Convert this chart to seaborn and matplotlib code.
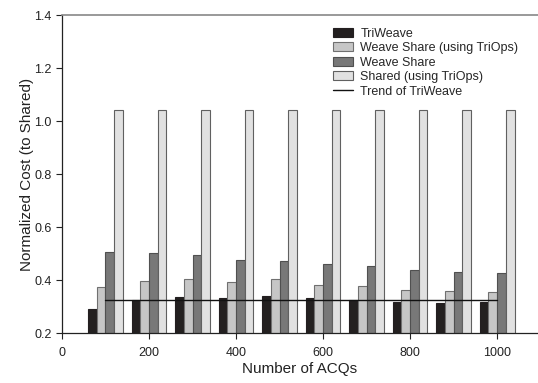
import matplotlib
matplotlib.use("Agg")
import matplotlib.pyplot as plt
from matplotlib.patches import Patch
from matplotlib.lines import Line2D
import seaborn as sns
import pandas as pd

# Workload sizes (number of ACQs)
acqs = [100, 200, 300, 400, 500, 600, 700, 800, 900, 1000]

# Normalized cost relative to the Shared baseline
triweave = [0.292, 0.326, 0.336, 0.332, 0.340, 0.332, 0.326, 0.318, 0.315, 0.316]
weave_share_triops = [0.375, 0.396, 0.405, 0.392, 0.405, 0.381, 0.376, 0.361, 0.357, 0.356]
weave_share = [0.506, 0.503, 0.496, 0.477, 0.473, 0.462, 0.453, 0.439, 0.430, 0.425]
shared_triops = [1.04, 1.04, 1.04, 1.04, 1.04, 1.04, 1.04, 1.04, 1.04, 1.04]
trend_triweave = [0.323, 0.323]

series_names = ["TriWeave", "Weave Share (using TriOps)", "Weave Share", "Shared (using TriOps)"]
series_values = [triweave, weave_share_triops, weave_share, shared_triops]
trend_name = "Trend of TriWeave"

colors = {
    "TriWeave": "#231f20",
    "Weave Share (using TriOps)": "#c6c6c6",
    "Weave Share": "#787878",
    "Shared (using TriOps)": "#e1e1e1",
}
edges = {
    "TriWeave": "#231f20",
    "Weave Share (using TriOps)": "#707070",
    "Weave Share": "#505050",
    "Shared (using TriOps)": "#606060",
}

rows = []
for name, vals in zip(series_names, series_values):
    for a, v in zip(acqs, vals):
        rows.append({"acqs": a, "cost": v, "series": name})
df = pd.DataFrame(rows)

sns.set_style("ticks")
plt.rcParams["font.family"] = ["Liberation Sans", "DejaVu Sans"]

fig = plt.figure(figsize=(5.38, 3.83), dpi=100)
ax = fig.add_axes([0.1152, 0.1305, 0.8848, 0.8303])

sns.barplot(data=df, x="acqs", y="cost", hue="series", hue_order=series_names,
            palette=colors, native_scale=True, width=0.8, errorbar=None,
            linewidth=0.8, ax=ax, legend=False)

# outline each bar in a darker shade of its own fill
for container, name in zip(ax.containers, series_names):
    for bar in container:
        bar.set_edgecolor(edges[name])

trend_df = pd.DataFrame({"acqs": [acqs[0], acqs[-1]], "cost": trend_triweave})
sns.lineplot(data=trend_df, x="acqs", y="cost", color="#111111", linewidth=1.0, ax=ax)

ax.set_xlim(0, 1094)
ax.set_ylim(0.2, 1.4)
ax.set_xticks([0, 200, 400, 600, 800, 1000])
ax.set_yticks([0.2, 0.4, 0.6, 0.8, 1.0, 1.2, 1.4])
ax.set_yticklabels([f"{t:.1f}" for t in ax.get_yticks()])
ax.tick_params(axis="both", labelsize=9, length=4, width=0.8, color="#222222",
               labelcolor="#222222", direction="out")
ax.tick_params(axis="x", pad=6)
ax.set_xlabel("Number of ACQs", fontsize=11, color="#222222", labelpad=2)
ax.set_ylabel("Normalized Cost (to Shared)", fontsize=11, color="#222222", labelpad=0)

for side in ["left", "bottom"]:
    ax.spines[side].set_color("#222222")
    ax.spines[side].set_linewidth(0.9)
ax.spines["top"].set_color("#888888")
ax.spines["top"].set_linewidth(1.2)
ax.spines["right"].set_visible(False)

handles = [Patch(facecolor=colors[n], edgecolor=edges[n], linewidth=0.8, label=n)
           for n in series_names]
handles.append(Line2D([0], [0], color="#111111", linewidth=1.0, label=trend_name))
ax.legend(handles=handles, loc="upper left", bbox_to_anchor=(0.569, 0.96),
          frameon=False, fontsize=9, handlelength=1.6, handleheight=0.75,
          handletextpad=0.6, labelspacing=0.2, borderpad=0, borderaxespad=0)

fig.savefig("out.png", dpi=100)
